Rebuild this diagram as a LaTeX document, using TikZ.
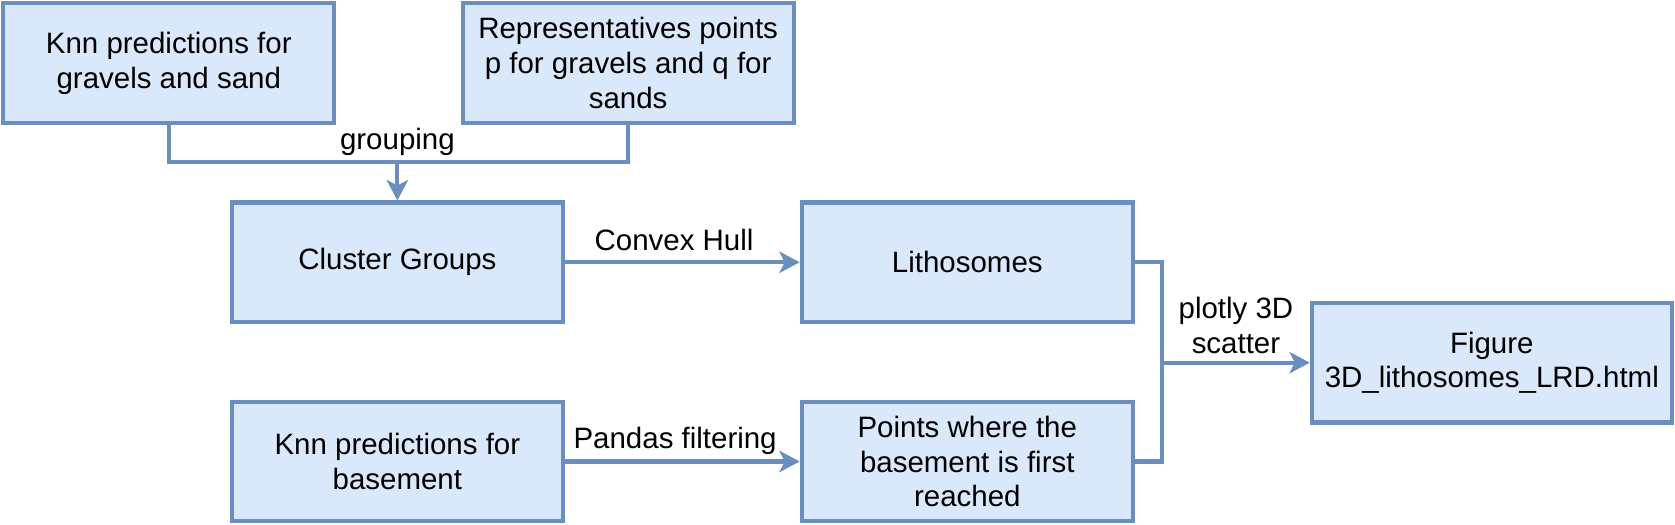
\documentclass[tikz,border=0pt]{standalone}
\usepackage{fontspec}
\setmainfont{Liberation Sans}
\usepackage{tikz}
\usetikzlibrary{arrows.meta, positioning, calc}
\definecolor{boxblue}{RGB}{218, 232, 252}
\definecolor{edgeblue}{RGB}{108, 142, 191}

\begin{document}
\begin{tikzpicture}[x=0.02cm, y=-0.02cm,
  font=\fontsize{15.7}{18.5}\selectfont,
  procbox/.style={draw=edgeblue, fill=boxblue, line width=2.2pt, minimum width=6.2cm, minimum height=2.24cm, align=center, inner sep=2pt},
  link/.style={draw=edgeblue, line width=2.2pt},
  flowarrow/.style={link, -{Stealth[length=0.38cm, width=0.4cm, inset=0.1cm]}},
  edgelabel/.style={align=center, inner sep=1pt}]
  \useasboundingbox (0, 0) rectangle (1568, 491);

  % Inputs
  \node[procbox] (knnsand) at (158, 59) {Knn predictions for\\gravels and sand};
  \node[procbox] (reppoints) at (588, 59) {Representatives points\\p for gravels and q for\\sands};
  \node[procbox] (knnbase) at (372, 432) {Knn predictions for\\basement};

  % Intermediate results
  \node[procbox] (clusters) at (372, 245.5) {Cluster Groups};
  \node[procbox] (litho) at (905.5, 245.5) {Lithosomes};
  \node[procbox] (firstreach) at (905.5, 432) {Points where the\\basement is first\\reached};

  % Output
  \node[procbox, minimum width=6.74cm] (figure) at (1396.5, 339.5) {Figure\\3D\_lithosomes\_LRD.html};

  % Grouping
  \coordinate (groupjoin) at (372, 152);
  \draw[link] (knnsand.south) |- (groupjoin);
  \draw[link] (reppoints.south) |- (groupjoin);
  \draw[flowarrow] (groupjoin) -- (clusters.north);
  \node[edgelabel] (grouplbl) at (372, 133) {grouping};

  % Convex hull and filtering
  \draw[flowarrow] (clusters.east) -- (litho.west);
  \node[edgelabel] (hulllbl) at (631, 225) {Convex Hull};
  \draw[flowarrow] (knnbase.east) -- (firstreach.west);
  \node[edgelabel] (pandaslbl) at (632, 413) {Pandas filtering};

  % Plotting
  \coordinate (plotjoin) at (1088, 339.5);
  \draw[link] (litho.east) -| (plotjoin);
  \draw[link] (firstreach.east) -| (plotjoin);
  \draw[flowarrow] (plotjoin) -- (figure.west);
  \node[edgelabel] (plotlbl) at (1157, 305) {plotly 3D\\scatter};
\end{tikzpicture}
\end{document}
